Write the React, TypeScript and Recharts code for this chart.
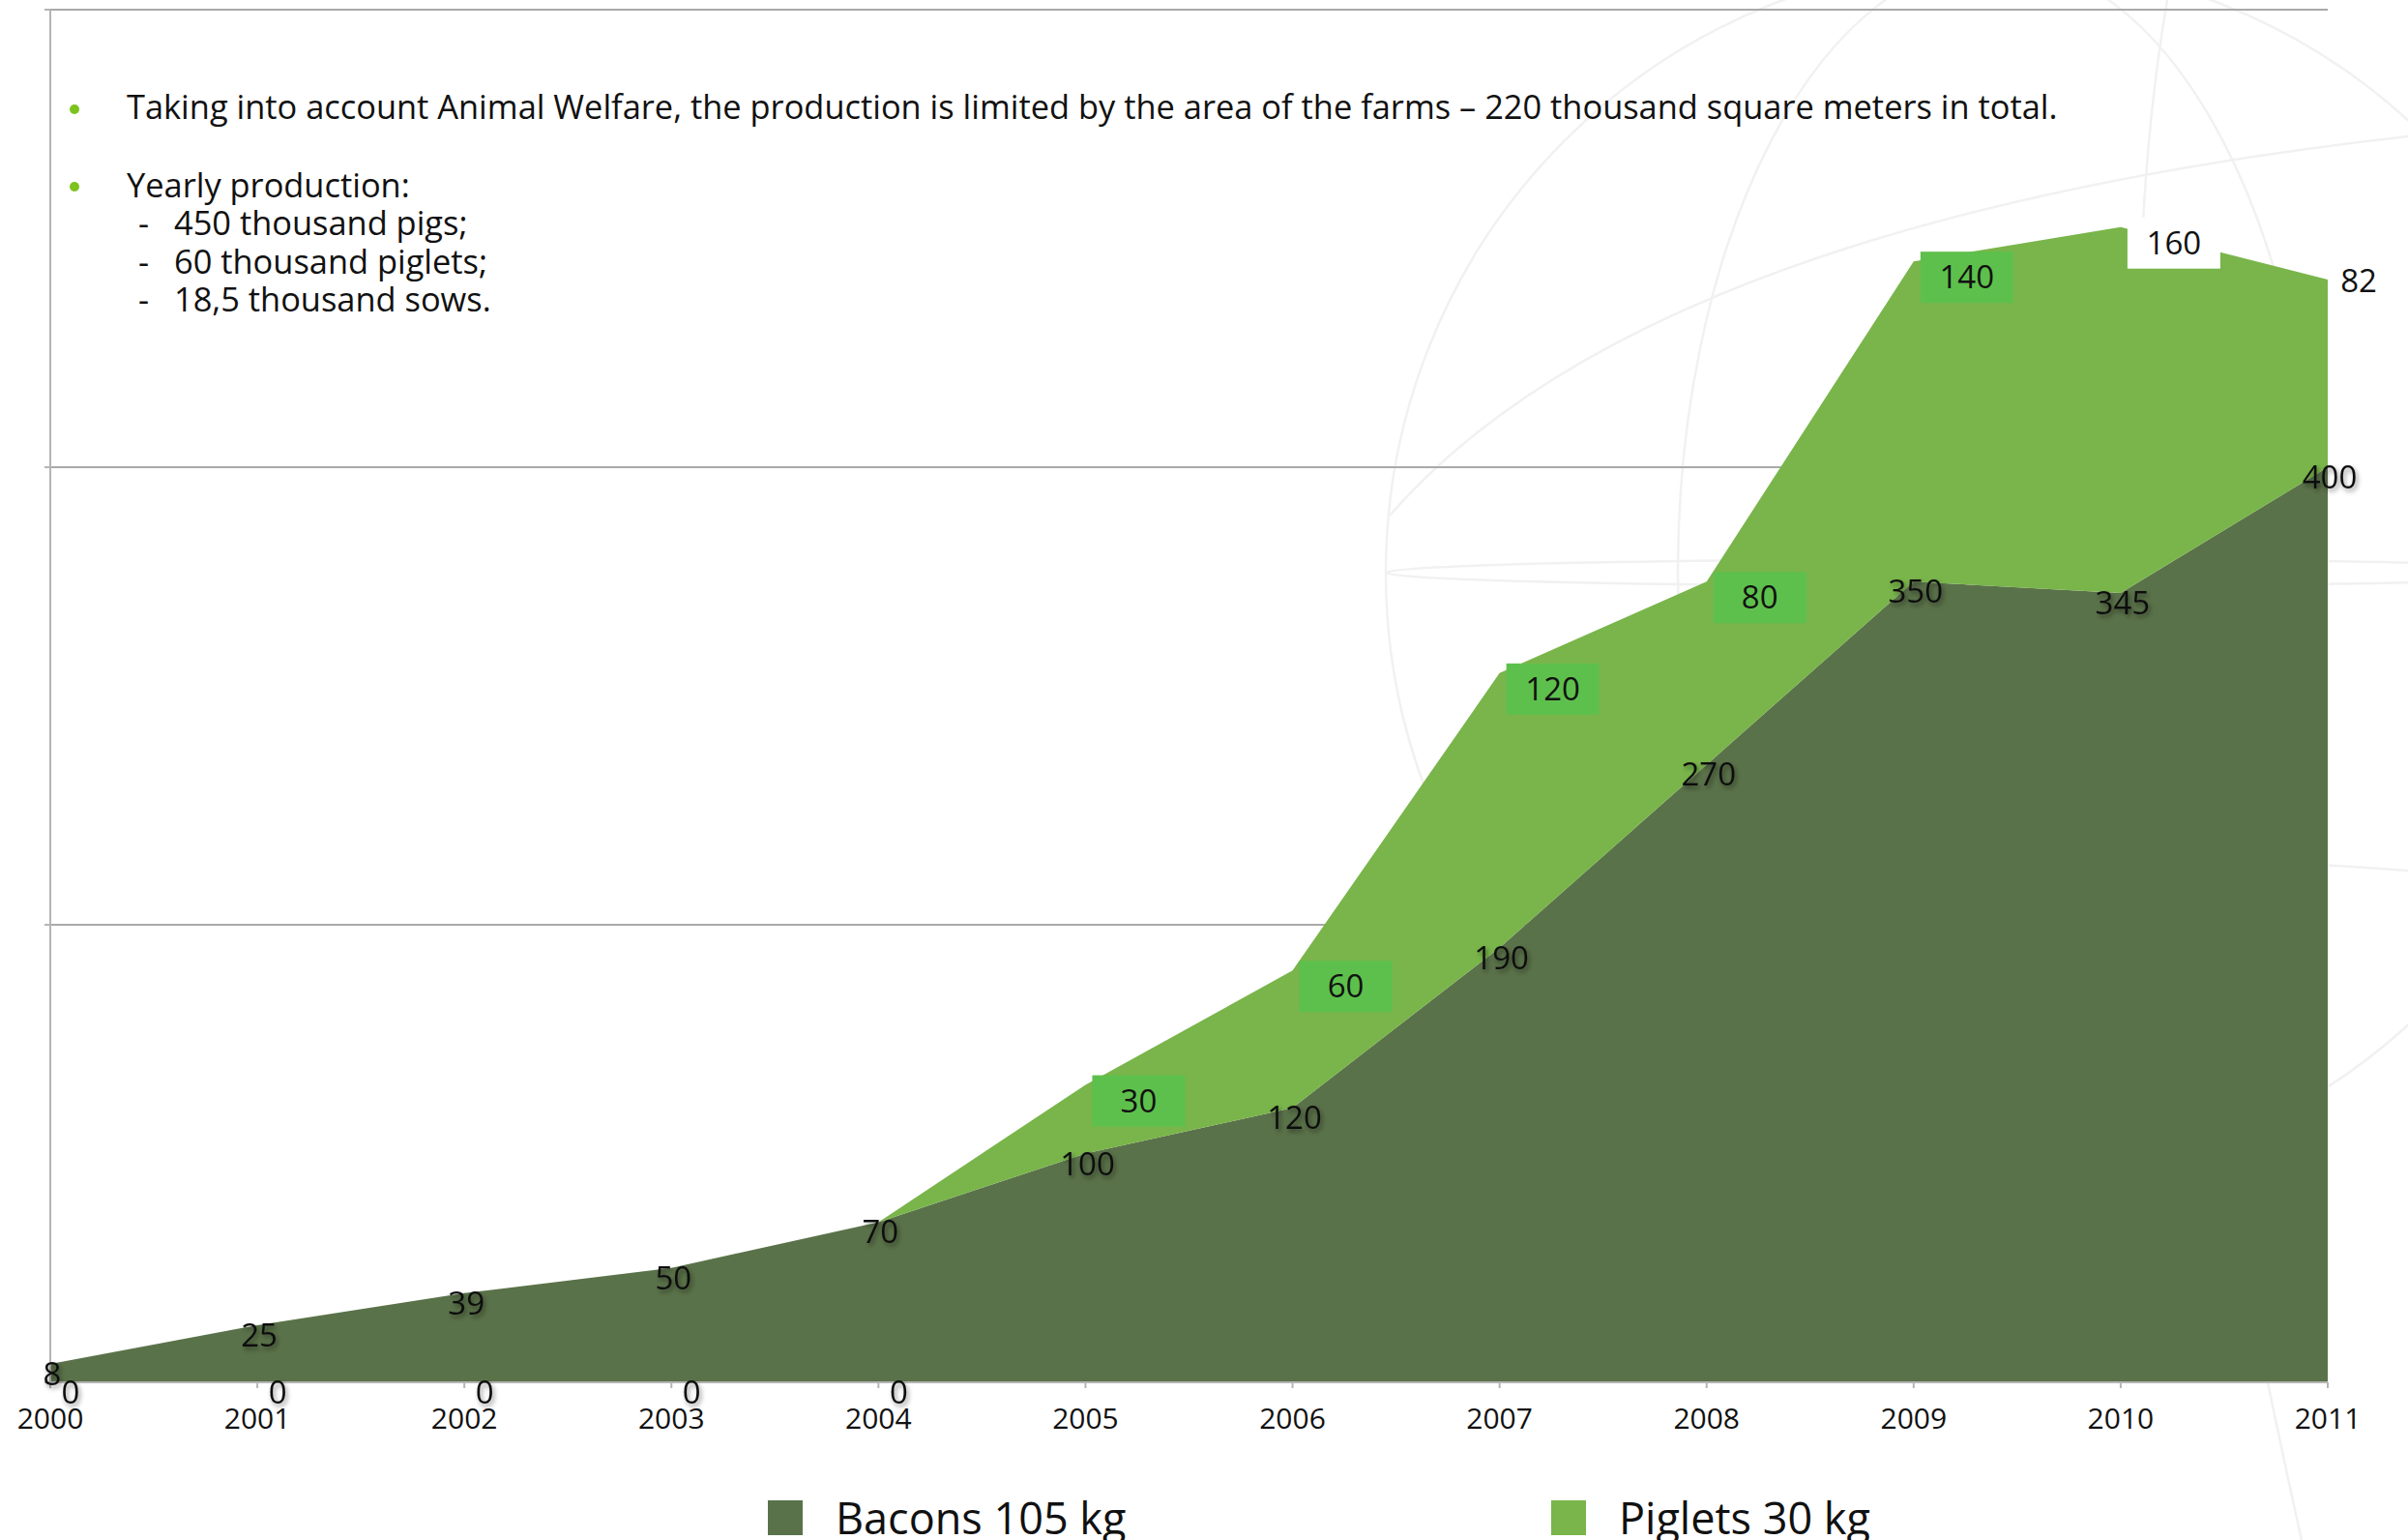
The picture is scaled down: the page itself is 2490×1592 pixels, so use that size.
import React from "react";
import {
  AreaChart,
  Area,
  XAxis,
  YAxis,
  CartesianGrid,
  Legend,
  LabelList,
} from "recharts";

const years = ["2000", "2001", "2002", "2003", "2004", "2005", "2006", "2007", "2008", "2009", "2010", "2011"];
const bacons = [8, 25, 39, 50, 70, 100, 120, 190, 270, 350, 345, 400];
const piglets = [0, 0, 0, 0, 0, 30, 60, 120, 80, 140, 160, 82];
const yTicks = [0, 200, 400, 600];
const seriesNames = ["Bacons 105 kg", "Piglets 30 kg"];
const notes = [
  "Taking into account Animal Welfare, the production is limited by the area of the farms \u2013 220 thousand square meters in total.",
  "Yearly production:",
];
const subNotes = ["450 thousand pigs;", "60 thousand piglets;", "18,5 thousand sows."];

const data = years.map((year, i) => ({ year, bacons: bacons[i], piglets: piglets[i] }));

const W = 2490;
const H = 1592;
const PLOT_BOTTOM = 1429;
const DARK = "#5a7249";
const LIGHT = "#79b54a";
const FONT = "'Open Sans', 'Noto Sans', sans-serif";

// label box colours for the piglet series (default green box)
const pigletBox: Record<string, string> = { "2010": "#ffffff", "2011": "none" };

const BaconLabel = (props: any) => {
  const { x, y, value } = props;
  return (
    <text x={x + 2} y={y + 22} textAnchor="middle" fontSize={33} fill="#111" fontFamily={FONT} filter="url(#lblShadow)">
      {value}
    </text>
  );
};

const PigletLabel = (props: any) => {
  const { x, y, value, index } = props;
  if (value === 0) {
    return (
      <text x={x + 21} y={PLOT_BOTTOM + 22} textAnchor="middle" fontSize={33} fill="#111" fontFamily={FONT} filter="url(#lblShadow)">
        {value}
      </text>
    );
  }
  const fill = pigletBox[years[index]] ?? "#5ec04c";
  const boxed = fill !== "none";
  const cx = boxed ? x + 55 : x + 32;
  const cy = boxed ? y + 16 : y + 1;
  return (
    <g>
      {boxed && <rect x={cx - 48} y={cy - 26} width={96} height={53} fill={fill} />}
      <text x={cx} y={cy + 12} textAnchor="middle" fontSize={33} fill="#111" fontFamily={FONT}>
        {value}
      </text>
    </g>
  );
};

const LegendContent = () => (
  <div style={{ position: "relative", width: W, height: 52, fontFamily: FONT }}>
    {seriesNames.map((name, i) => (
      <div key={name} style={{ position: "absolute", left: i === 0 ? 794 : 1604, top: 0, display: "flex", alignItems: "center" }}>
        <div style={{ width: 36, height: 36, background: i === 0 ? DARK : LIGHT, marginRight: 34 }} />
        <span style={{ fontSize: 45, color: "#111", lineHeight: "52px" }}>{name}</span>
      </div>
    ))}
  </div>
);

// faint globe drawing in the slide background
const Backdrop = () => (
  <svg width={W} height={H} style={{ position: "absolute", left: 0, top: 0 }}>
    <g fill="none" stroke="#f1f1f1" strokeWidth={2.5}>
      <circle cx={2065} cy={592} r={632} />
      <ellipse cx={2065} cy={592} rx={330} ry={632} />
      <ellipse cx={2065} cy={592} rx={632} ry={14} />
      <path d="M1437 533 Q1700 230 2490 141" />
      <path d="M1500 980 Q1800 850 2490 900" />
      <path d="M2241 0 Q2190 300 2230 700 T2380 1592" />
    </g>
  </svg>
);

export default function App() {
  return (
    <div style={{ position: "relative", width: W, height: H, background: "#fff", overflow: "hidden" }}>
      <style>{"body{margin:0}"}</style>
      <Backdrop />
      <div style={{ position: "absolute", left: 0, top: 0 }}>
        <AreaChart width={W} height={H} data={data} margin={{ top: 10, right: 83, left: 51, bottom: 103 }}>
          <defs>
            <filter id="lblShadow" x="-30%" y="-30%" width="160%" height="160%">
              <feDropShadow dx="2" dy="3" stdDeviation="2.5" floodColor="#000" floodOpacity="0.45" />
            </filter>
          </defs>
          <CartesianGrid vertical={false} stroke="#a9a9a9" strokeWidth={2} />
          <XAxis
            dataKey="year"
            height={60}
            tickSize={6}
            tickMargin={21}
            axisLine={{ stroke: "#b5b5b5", strokeWidth: 2 }}
            tickLine={{ stroke: "#b5b5b5", strokeWidth: 2 }}
            tick={{ fontSize: 30, fill: "#111", fontFamily: FONT }}
            interval={0}
          />
          <YAxis
            width={1}
            domain={[0, 600]}
            ticks={yTicks}
            tick={() => <g />}
            tickSize={6}
            axisLine={{ stroke: "#b5b5b5", strokeWidth: 2 }}
            tickLine={{ stroke: "#b5b5b5", strokeWidth: 2 }}
          />
          <Area type="linear" dataKey="bacons" stackId="1" name={seriesNames[0]} fill={DARK} fillOpacity={1} stroke="none" isAnimationActive={false}>
            <LabelList dataKey="bacons" content={BaconLabel} />
          </Area>
          <Area type="linear" dataKey="piglets" stackId="1" name={seriesNames[1]} fill={LIGHT} fillOpacity={1} stroke="none" isAnimationActive={false}>
            <LabelList dataKey="piglets" content={PigletLabel} />
          </Area>
          <Legend
            layout="vertical"
            align="center"
            verticalAlign="middle"
            content={LegendContent}
            wrapperStyle={{ position: "absolute", left: 0, top: 1543, width: W, height: 52 }}
          />
        </AreaChart>
      </div>
      <svg width={W} height={H} style={{ position: "absolute", left: 0, top: 0, pointerEvents: "none" }}>
        <g fontFamily={FONT} fontSize={34.4} fill="#111">
          <circle cx={77} cy={113} r={5} fill="#7dc21e" />
          <text x={131} y={123}>{notes[0]}</text>
          <circle cx={77} cy={193} r={5} fill="#7dc21e" />
          <text x={131} y={204}>{notes[1]}</text>
          {subNotes.map((s, i) => (
            <g key={s}>
              <text x={143} y={243 + i * 39.5}>-</text>
              <text x={180} y={243 + i * 39.5}>{s}</text>
            </g>
          ))}
        </g>
      </svg>
    </div>
  );
}
